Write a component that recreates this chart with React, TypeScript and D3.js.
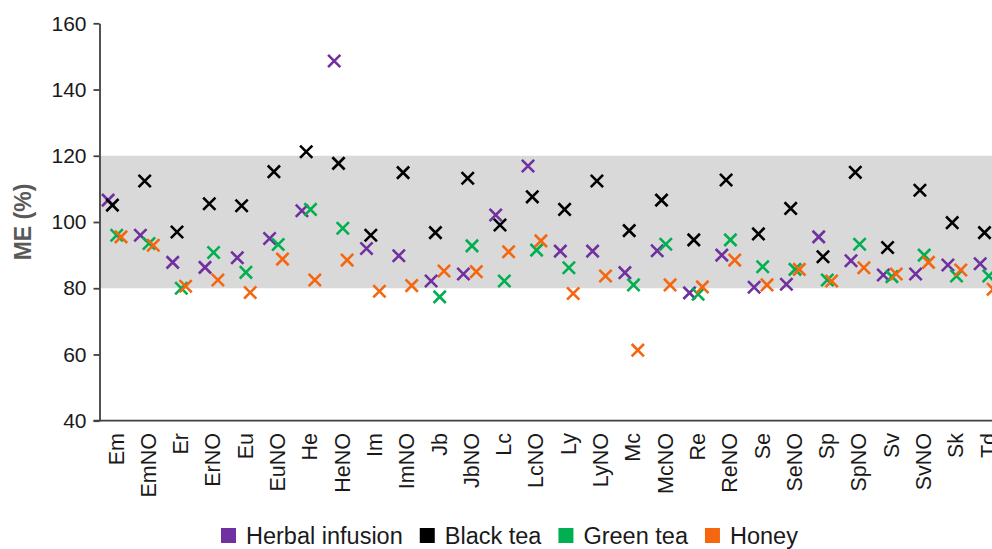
import React, { useEffect, useRef } from "react";
import * as d3 from "d3";

const categories = ["Em","EmNO","Er","ErNO","Eu","EuNO","He","HeNO","Im","ImNO","Jb","JbNO","Lc","LcNO","Ly","LyNO","Mc","McNO","Re","ReNO","Se","SeNO","Sp","SpNO","Sv","SvNO","Sk","Td"];
const herbal = [106.6,96.0,87.8,86.3,89.2,95.0,103.4,148.6,92.0,89.8,82.2,84.3,102.1,116.9,91.2,91.2,84.7,91.3,78.6,90.0,80.3,81.2,95.5,88.3,84.0,84.3,87.0,87.4];
const blackTea = [105.1,112.4,97.0,105.5,104.9,115.2,121.2,117.7,96.0,114.9,96.8,113.2,99.1,107.6,103.8,112.4,97.4,106.6,94.6,112.7,96.4,104.1,89.5,115.0,92.3,109.6,99.8,96.8];
const greenTea: (number | null)[] = [96.0,93.5,80.0,90.8,84.8,93.2,103.8,98.1,null,null,77.4,92.8,82.2,91.5,86.2,null,81.0,93.3,78.2,94.6,86.5,85.7,82.5,93.3,83.5,90.0,83.7,83.7];
const honey = [95.5,93.0,80.6,82.5,78.7,88.8,82.5,88.5,79.1,80.8,85.2,85.0,91.0,94.3,78.4,83.7,61.3,81.0,80.4,88.5,81.0,85.7,82.2,86.2,84.3,87.8,85.5,79.7];
const seriesNames = ["Herbal infusion","Black tea","Green tea","Honey"];
const seriesColors = ["#7030a0","#000000","#00b050","#f5660f"];
const yTicks = [40,60,80,100,120,140,160];
const bandLow = 80;
const bandHigh = 120;

export default function App() {
  const ref = useRef<SVGSVGElement | null>(null);
  useEffect(() => {
    const svg = d3.select(ref.current);
    svg.selectAll("*").remove();
    const W = 992, H = 549;
    const axisX = 99.5;
    const step = 32.3;
    const x = d3.scaleBand<string>().domain(categories).range([98.4, 98.4 + step * categories.length]).padding(0);
    const y = d3.scaleLinear().domain([40, 160]).range([420.7, 23.3]);
    const font = "'Liberation Sans', Arial, sans-serif";

    // band
    svg.append("rect")
      .attr("x", axisX).attr("y", y(bandHigh))
      .attr("width", W - axisX).attr("height", y(bandLow) - y(bandHigh))
      .attr("fill", "#d9d9d9");

    // y axis
    const gy = svg.append("g").attr("transform", `translate(${axisX},0)`)
      .call(d3.axisLeft(y).tickValues(yTicks).tickSize(6).tickSizeOuter(0).tickPadding(7));
    gy.select(".domain").attr("stroke", "#404040").attr("stroke-width", 1.8);
    gy.selectAll(".tick line").attr("stroke", "#404040").attr("stroke-width", 1.8);
    gy.selectAll(".tick text").attr("font-family", font).attr("font-size", 21).attr("fill", "#1a1a1a");

    // x axis line
    svg.append("line")
      .attr("x1", axisX - 6).attr("x2", W).attr("y1", y(40)).attr("y2", y(40))
      .attr("stroke", "#404040").attr("stroke-width", 1.8);

    // x labels
    svg.append("g").selectAll("text").data(categories).join("text")
      .attr("transform", d => `translate(${(x(d) as number) + x.bandwidth() / 2 + 1.5},433) rotate(-90)`)
      .attr("text-anchor", "end")
      .attr("dy", "0.35em")
      .attr("font-family", font).attr("font-size", 21.5).attr("fill", "#1a1a1a")
      .text(d => d);

    // y title
    svg.append("text")
      .attr("transform", `translate(23,222) rotate(-90)`)
      .attr("text-anchor", "middle").attr("dy", "0.35em")
      .attr("font-family", font).attr("font-size", 23).attr("font-weight", "bold").attr("fill", "#595959")
      .text("ME (%)");

    // markers
    const allSeries = [herbal, blackTea, greenTea, honey];
    const offsets = [-1.5, -0.5, 0.5, 1.5];
    const sym = d3.symbol().type(d3.symbolX).size(100);
    allSeries.forEach((vals, si) => {
      const pts = categories.map((c, i) => ({ c, v: vals[i] })).filter(p => p.v != null);
      svg.append("g").selectAll("path").data(pts).join("path")
        .attr("d", sym() as string)
        .attr("transform", p => `translate(${(x(p.c) as number) + x.bandwidth() / 2 + offsets[si] * 4.3},${y(p.v as number)})`)
        .attr("fill", "none")
        .attr("stroke", seriesColors[si])
        .attr("stroke-width", 2.6);
    });

    // legend
    const lg = svg.append("g");
    let lx = 221;
    seriesNames.forEach((name, i) => {
      lg.append("rect").attr("x", lx).attr("y", 528).attr("width", 15).attr("height", 15).attr("fill", seriesColors[i]);
      const t = lg.append("text").attr("x", lx + 25).attr("y", 543.5)
        .attr("font-family", font).attr("font-size", 23.5).attr("fill", "#1a1a1a").text(name);
      const w = (t.node() as SVGTextElement).getComputedTextLength();
      lx = lx + 25 + w + 17;
    });
  }, []);
  return (
    <svg ref={ref} width={992} height={549} style={{ position: "absolute", left: 0, top: 0, background: "#fff", overflow: "hidden" }} />
  );
}
